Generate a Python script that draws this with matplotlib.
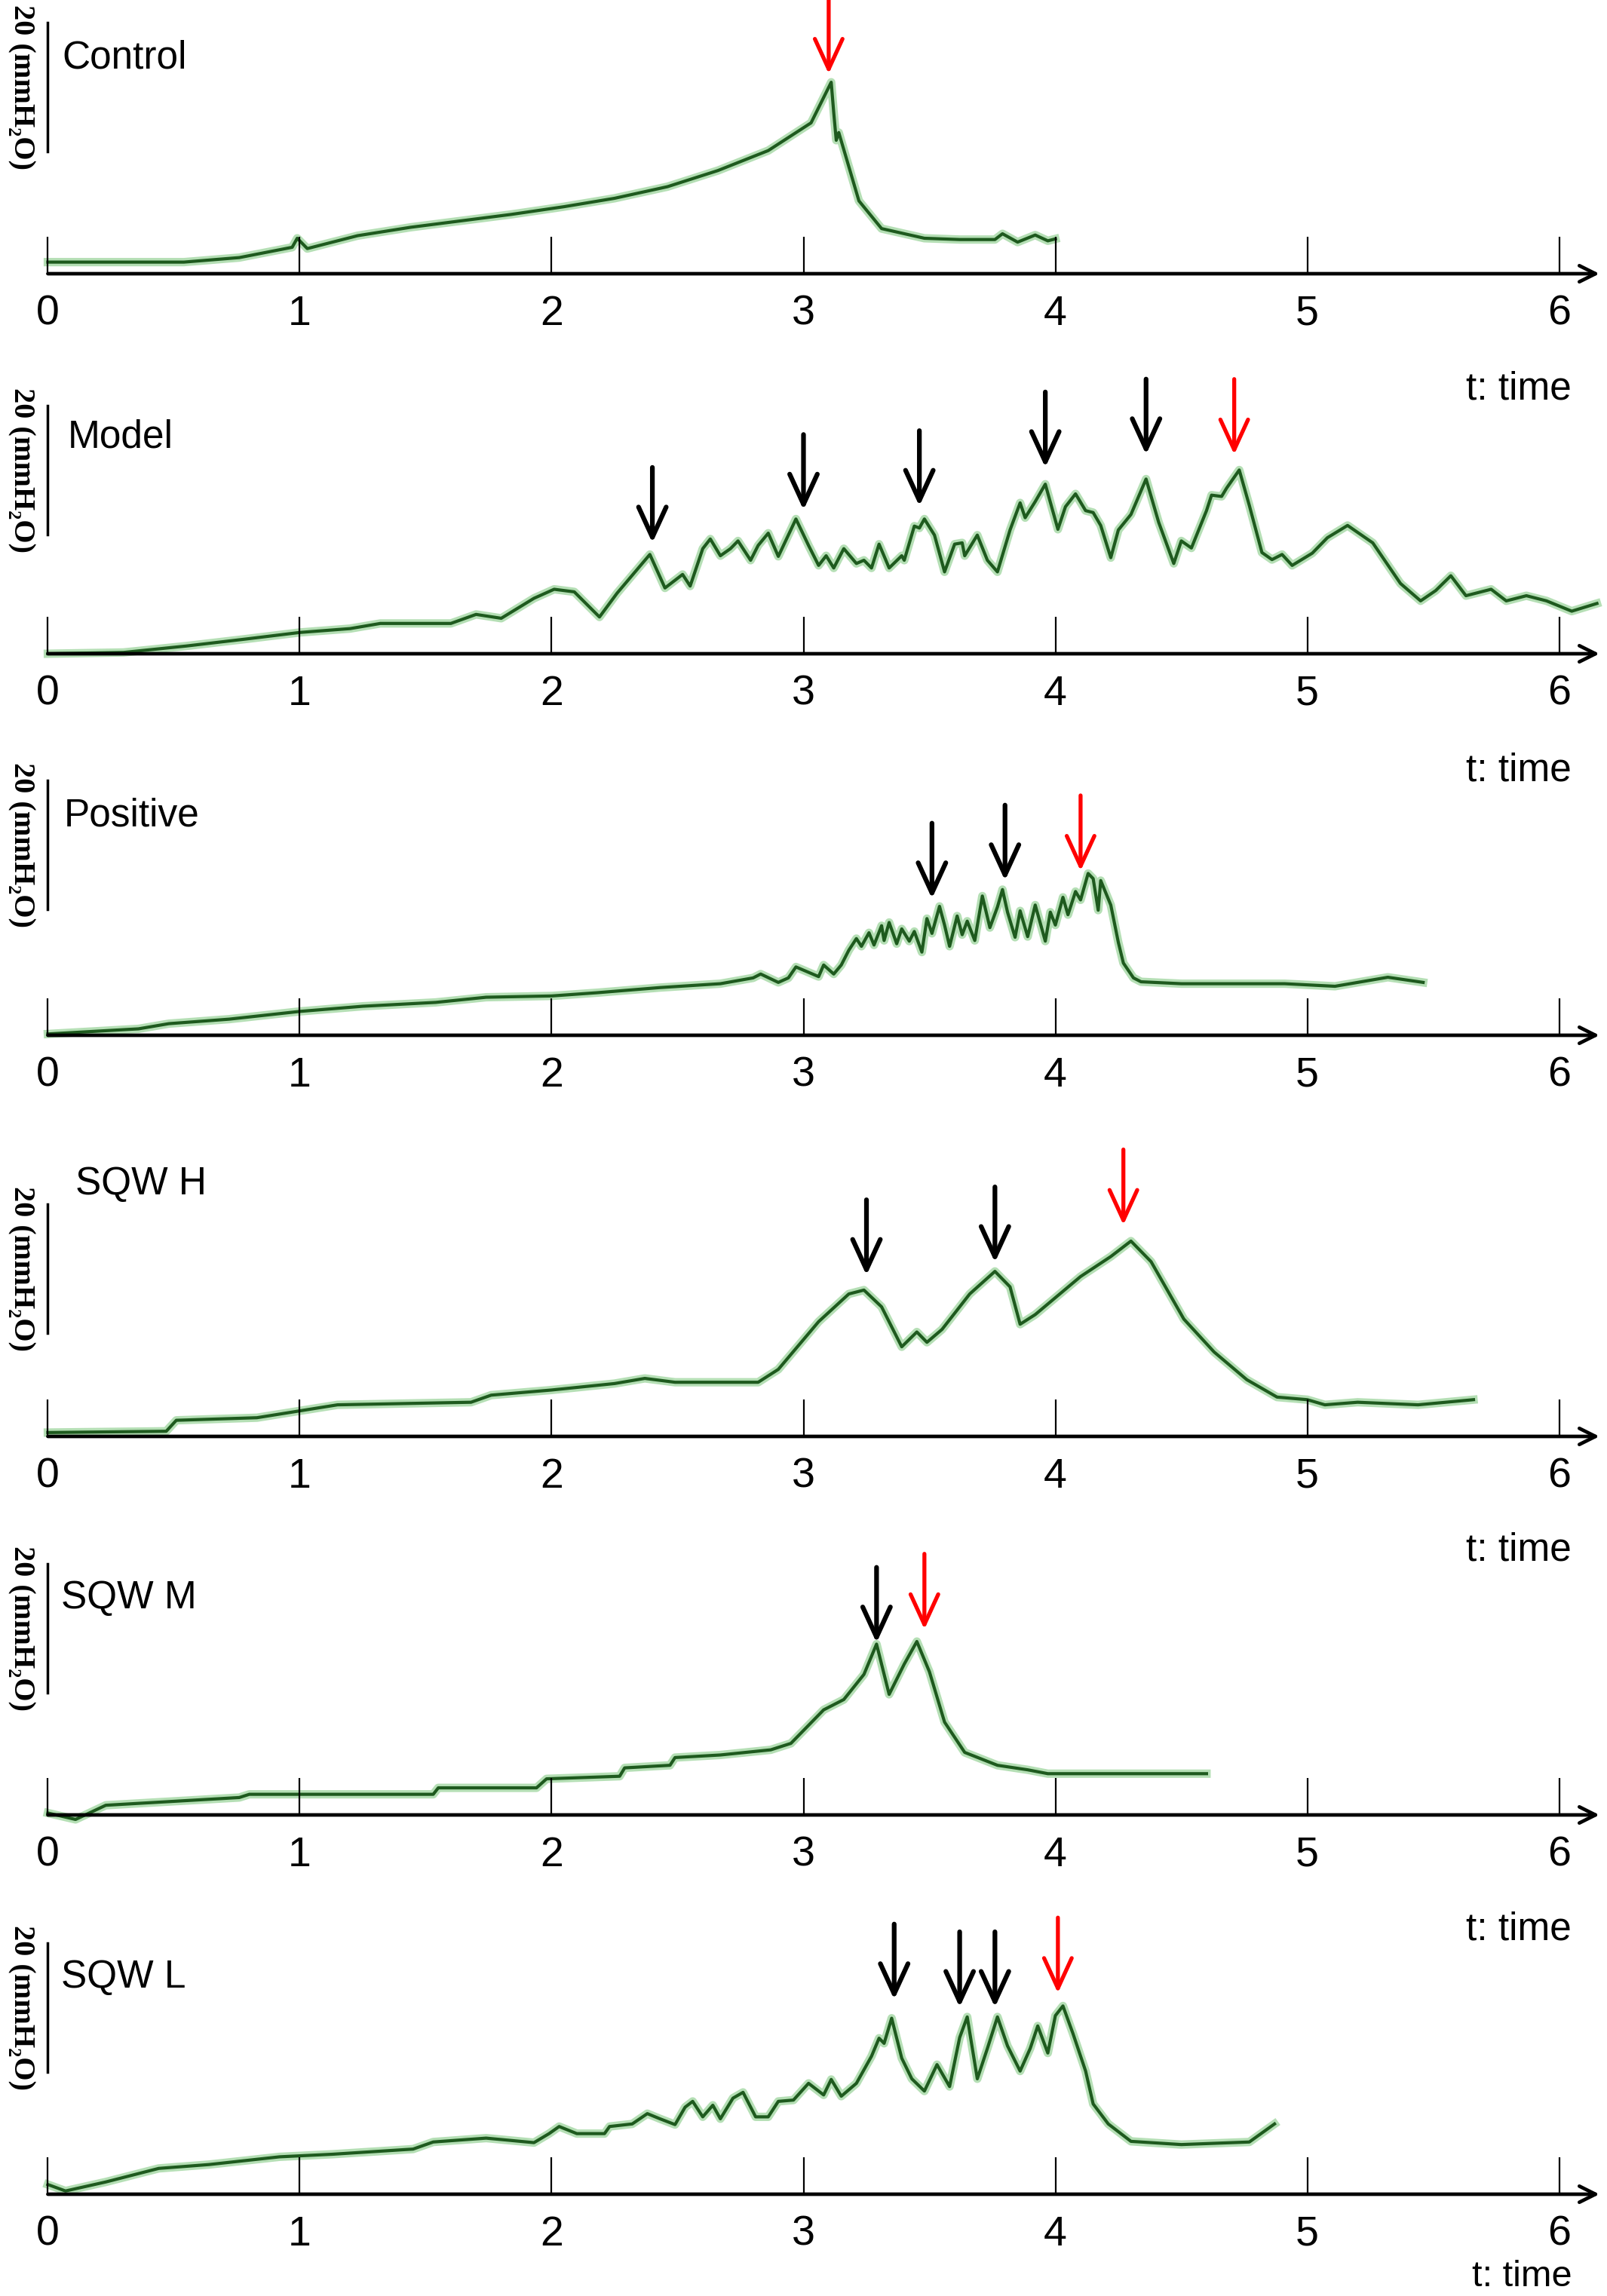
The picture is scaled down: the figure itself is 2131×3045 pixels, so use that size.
import matplotlib
matplotlib.use('Agg')
import matplotlib.pyplot as plt
import numpy as np

# pressure traces (t in time units, p in mmH2O above baseline)
t_control = [0, 0.54, 0.76, 0.97, 0.99, 1.03, 1.23, 1.44, 1.64, 1.84, 2.05, 2.25, 2.46, 2.66,
             2.86, 3.03, 3.11, 3.12, 3.13, 3.14, 3.22, 3.31, 3.48, 3.62, 3.76, 3.79, 3.85, 3.92,
             3.97, 4.0]
p_control = [1.8, 1.8, 2.5, 4.1, 5.5, 3.9, 5.9, 7.2, 8.2, 9.2, 10.4, 11.7, 13.5, 16.0,
             19.1, 23.4, 29.7, 25.0, 20.7, 21.9, 11.3, 7.0, 5.5, 5.3, 5.3, 6.2, 4.9, 6.0,
             5.1, 5.4]

t_model = [0, 0.3, 0.55, 0.79, 1.0, 1.2, 1.32, 1.6, 1.7, 1.8, 1.93, 2.01, 2.09, 2.19,
           2.26, 2.39, 2.45, 2.52, 2.55, 2.60, 2.63, 2.67, 2.71, 2.74, 2.79, 2.82, 2.86, 2.90,
           2.97, 3.02, 3.06, 3.09, 3.12, 3.16, 3.21, 3.24, 3.27, 3.30, 3.34, 3.39, 3.40, 3.44,
           3.46, 3.48, 3.52, 3.56, 3.60, 3.63, 3.64, 3.69, 3.73, 3.77, 3.82, 3.86, 3.88, 3.92,
           3.96, 4.01, 4.04, 4.08, 4.12, 4.15, 4.18, 4.22, 4.25, 4.30, 4.36, 4.41, 4.47, 4.50,
           4.54, 4.60, 4.62, 4.66, 4.68, 4.73, 4.77, 4.82, 4.86, 4.90, 4.94, 5.02, 5.08, 5.16,
           5.26, 5.37, 5.45, 5.51, 5.57, 5.63, 5.73, 5.79, 5.87, 5.95, 6.05, 6.15]
p_model = [0, 0.2, 1.2, 2.3, 3.3, 3.9, 4.7, 4.7, 6.1, 5.5, 8.6, 10.0, 9.6, 5.7,
           9.4, 15.4, 10.2, 12.3, 10.5, 16.3, 17.8, 15.2, 16.3, 17.5, 14.5, 16.8, 18.7, 15.1,
           20.9, 16.8, 13.7, 15.2, 13.3, 16.3, 14.0, 14.5, 13.3, 17.0, 13.3, 15.2, 14.5, 19.8,
           19.5, 20.9, 18.4, 12.7, 17.0, 17.2, 15.2, 18.4, 14.5, 12.7, 19.2, 23.4, 21.1, 23.6,
           26.3, 19.3, 22.8, 24.8, 22.2, 21.9, 19.9, 14.9, 19.2, 21.6, 27.1, 20.4, 14.0, 17.5,
           16.4, 22.2, 24.6, 24.4, 25.7, 28.5, 23.0, 15.7, 14.6, 15.4, 13.7, 15.6, 18.0, 19.9,
           17.2, 10.9, 8.2, 9.8, 12.1, 9.0, 10.0, 8.2, 9.0, 8.2, 6.6, 7.8]

t_positive = [0, 0.36, 0.48, 0.72, 1.0, 1.25, 1.54, 1.74, 2.0, 2.18, 2.43, 2.67, 2.80, 2.83,
              2.90, 2.94, 2.97, 3.00, 3.06, 3.08, 3.12, 3.15, 3.18, 3.21, 3.23, 3.26, 3.28,
              3.31, 3.32, 3.34, 3.37, 3.39, 3.42, 3.44, 3.47, 3.49, 3.51, 3.54, 3.56, 3.58,
              3.61, 3.63, 3.65, 3.68, 3.71, 3.74, 3.77, 3.79, 3.81, 3.84, 3.86, 3.89, 3.92,
              3.96, 3.98, 4.00, 4.03, 4.05, 4.08, 4.10, 4.13, 4.15, 4.17, 4.18, 4.22, 4.25,
              4.27, 4.31, 4.34, 4.50, 4.91, 5.11, 5.32, 5.46]
p_positive = [0.2, 1.0, 1.8, 2.5, 3.7, 4.5, 5.1, 5.9, 6.1, 6.6, 7.4, 8.0, 8.9, 9.5,
              8.2, 8.9, 10.6, 10.1, 9.1, 10.9, 9.5, 10.9, 13.2, 15.0, 13.8, 15.9, 14.0,
              17.0, 14.7, 17.5, 14.2, 16.5, 14.6, 16.1, 12.9, 18.1, 15.8, 20.0, 17.1, 13.8,
              18.5, 15.6, 17.7, 14.7, 21.6, 16.7, 19.9, 22.6, 19.1, 15.2, 19.3, 15.3, 20.2,
              14.6, 19.1, 17.1, 21.4, 18.7, 22.3, 21.0, 25.1, 24.3, 19.4, 24.0, 20.2, 14.4,
              11.2, 8.9, 8.3, 8.0, 8.0, 7.6, 9.0, 8.2]

t_sqwh = [0, 0.47, 0.51, 0.83, 0.99, 1.15, 1.68, 1.76, 2.0, 2.25, 2.37, 2.49, 2.82, 2.9,
          3.06, 3.18, 3.24, 3.31, 3.39, 3.45, 3.49, 3.55, 3.66, 3.76, 3.82, 3.86, 3.92, 4.1,
          4.22, 4.3, 4.38, 4.51, 4.63, 4.76, 4.88, 5.0, 5.07, 5.2, 5.44, 5.66]
p_sqwh = [0.6, 0.8, 2.5, 2.9, 3.9, 4.9, 5.3, 6.4, 7.2, 8.2, 9.0, 8.4, 8.4, 10.4,
          17.8, 22.1, 22.7, 20.1, 13.9, 16.2, 14.6, 16.6, 22.1, 25.6, 23.2, 17.4, 18.9, 24.8,
          27.9, 30.3, 27.1, 18.2, 13.1, 8.8, 6.1, 5.7, 4.9, 5.3, 4.9, 5.7]

t_sqwm = [0, 0.11, 0.23, 0.76, 0.8, 1.53, 1.55, 1.94, 1.98, 2.27, 2.29, 2.47, 2.49, 2.67,
          2.87, 2.95, 3.08, 3.16, 3.24, 3.29, 3.34, 3.4, 3.45, 3.5, 3.56, 3.64, 3.77, 3.89,
          3.97, 4.6]
p_sqwm = [0.3, -0.7, 1.5, 2.7, 3.2, 3.2, 4.2, 4.2, 5.6, 6.0, 7.3, 7.7, 8.9, 9.3,
          10.1, 11.1, 16.3, 17.9, 21.8, 26.5, 18.7, 23.4, 26.9, 22.2, 14.4, 9.7, 7.7, 7.0,
          6.4, 6.4]

t_sqwl = [0, 0.07, 0.23, 0.44, 0.64, 0.92, 1.13, 1.45, 1.53, 1.74, 1.93, 1.99, 2.03, 2.10,
          2.21, 2.23, 2.32, 2.38, 2.43, 2.49, 2.53, 2.56, 2.60, 2.64, 2.67, 2.72, 2.76, 2.81,
          2.86, 2.90, 2.96, 3.02, 3.08, 3.11, 3.15, 3.21, 3.27, 3.30, 3.32, 3.35, 3.39, 3.43,
          3.48, 3.53, 3.58, 3.62, 3.65, 3.69, 3.73, 3.77, 3.81, 3.86, 3.90, 3.93, 3.97, 4.00,
          4.03, 4.07, 4.12, 4.15, 4.21, 4.30, 4.5, 4.77, 4.87]
p_sqwl = [1.5, 0.5, 1.9, 4.0, 4.6, 5.8, 6.2, 7.0, 8.1, 8.7, 8.0, 9.4, 10.5, 9.4,
          9.4, 10.5, 10.9, 12.5, 11.7, 10.8, 13.5, 14.4, 12.0, 13.8, 11.7, 14.9, 15.8, 12.0,
          12.0, 14.4, 14.6, 17.2, 15.4, 17.8, 15.2, 17.2, 21.4, 24.2, 23.4, 27.3, 21.1, 17.9,
          16.0, 20.1, 16.7, 24.3, 27.5, 17.9, 22.6, 27.5, 23.0, 19.1, 22.6, 26.1, 21.9, 27.7,
          29.2, 24.9, 19.1, 14.0, 10.9, 8.2, 7.7, 8.1, 10.9]

# marker arrows: position, tip level, red or not
arr_control_t = [3.10]
arr_control_tip = [31.0]
arr_control_red = [True]

arr_model_t = [2.40, 3.00, 3.46, 3.96, 4.36, 4.71]
arr_model_tip = [17.2, 22.3, 22.9, 28.9, 30.9, 30.9]
arr_model_red = [False, False, False, False, False, True]

arr_positive_t = [3.51, 3.80, 4.10]
arr_positive_tip = [21.2, 24.0, 25.5]
arr_positive_red = [False, False, True]

arr_sqwh_t = [3.25, 3.76, 4.27]
arr_sqwh_tip = [25.0, 27.0, 32.8]
arr_sqwh_red = [False, False, True]

arr_sqwm_t = [3.29, 3.48]
arr_sqwm_tip = [26.7, 28.8]
arr_sqwm_red = [False, True]

arr_sqwl_t = [3.36, 3.62, 3.76, 4.01]
arr_sqwl_tip = [30.2, 29.0, 29.0, 31.2]
arr_sqwl_red = [False, False, False, True]

names = ['Control', 'Model', 'Positive', 'SQW H', 'SQW M', 'SQW L']
ticks = [0, 1, 2, 3, 4, 5, 6]
tick_labels = ['0', '1', '2', '3', '4', '5', '6']

traces = [(t_control, p_control), (t_model, p_model), (t_positive, p_positive),
          (t_sqwh, p_sqwh), (t_sqwm, p_sqwm), (t_sqwl, p_sqwl)]
arrows = [(arr_control_t, arr_control_tip, arr_control_red),
          (arr_model_t, arr_model_tip, arr_model_red),
          (arr_positive_t, arr_positive_tip, arr_positive_red),
          (arr_sqwh_t, arr_sqwh_tip, arr_sqwh_red),
          (arr_sqwm_t, arr_sqwm_tip, arr_sqwm_red),
          (arr_sqwl_t, arr_sqwl_tip, arr_sqwl_red)]

# layout (pixel rows of each time axis, label placement)
W, H = 2131, 3045
axis_rows = [363, 867, 1373, 1905, 2407, 2910]
unit_px = 8.55
ylo, yhi = -16, 46
title_x = [0.058, 0.08, 0.064, 0.11, 0.052, 0.052]
title_y = [33.4, 33.6, 34.0, 39.1, 33.6, 33.6]
bar_lo = [19.0, 18.5, 19.5, 16.0, 19.0, 19.0]
time_top = [False, True, True, False, True, True]
arrow_len = 11.7

fig = plt.figure(figsize=(W / 100, H / 100), dpi=100)
green_dark = '#1e5a1e'
green_light = '#5cb85c'

for i in range(6):
    row = axis_rows[i]
    bottom = 1 - (row + (-ylo) * unit_px) / H
    height = (yhi - ylo) * unit_px / H
    ax = fig.add_axes([0, bottom, 1, height])
    ax.set_xlim(-0.19, 6.19)
    ax.set_ylim(ylo, yhi)
    ax.axis('off')
    ax.patch.set_alpha(0)

    t, p = traces[i]
    ax.plot(t, p, color=green_light, lw=8, alpha=0.45, solid_joinstyle='round', zorder=2)
    ax.plot(t, p, color=green_dark, lw=3.0, solid_joinstyle='round', zorder=3)

    # time axis with arrow head
    ax.annotate('', xy=(6.16, 0), xytext=(0, 0),
                arrowprops=dict(arrowstyle='->,head_length=0.7,head_width=0.35',
                                lw=3.4, color='black', mutation_scale=22,
                                shrinkA=0, shrinkB=0), zorder=4)
    ax.vlines(ticks, 0, 5.7, color='black', lw=1.6, zorder=4)
    for tk, lab in zip(ticks, tick_labels):
        ax.text(tk, -6.3, lab, ha='center', va='center', fontsize=40,
                family='Liberation Sans')

    # 20 mmH2O scale bar
    ax.plot([0, 0], [bar_lo[i], bar_lo[i] + 20], color='black', lw=2.5)
    ax.text(-0.105, bar_lo[i] + 10, '20 (mmH\u2082O)', rotation=270, ha='center',
            va='center', fontsize=29, fontweight='bold',
            family=['Liberation Serif', 'DejaVu Serif'])
    ax.text(title_x[i], title_y[i], names[i], ha='left', va='center', fontsize=37,
            family='Liberation Sans')

    if time_top[i]:
        ax.text(6.05, 41.0, 't: time', ha='right', va='center', fontsize=37,
                family='Liberation Sans')
    if i == 5:
        ax.text(6.05, -15.4, 't: time', ha='right', va='bottom', fontsize=35,
                family='Liberation Sans')

    at, tip, red = arrows[i]
    for x, y, r in zip(at, tip, red):
        c = 'red' if r else 'black'
        ax.annotate('', xy=(x, y), xytext=(x, y + arrow_len),
                    arrowprops=dict(arrowstyle='->,head_length=1.2,head_width=0.55',
                                    lw=3.8 if r else 4.5, color=c, mutation_scale=24,
                                    shrinkA=0, shrinkB=0), zorder=5)

fig.savefig('out.png', dpi=100)
